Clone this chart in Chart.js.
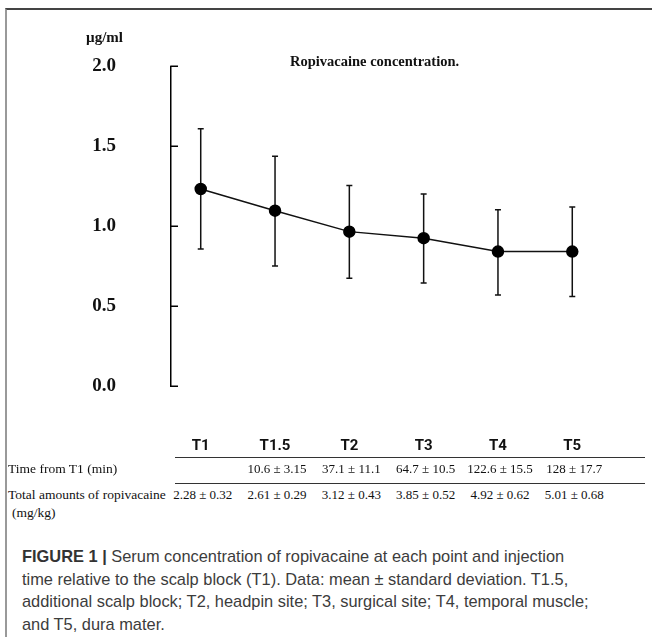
<!DOCTYPE html>
<html><head><meta charset="utf-8">
<script src="https://cdn.jsdelivr.net/npm/chart.js@4.4.1/dist/chart.umd.min.js"></script>
<style>
html,body{margin:0;padding:0;background:#fff;}
#fig{position:relative;width:652px;height:637px;overflow:hidden;background:#fff;}
#frame{position:absolute;left:5px;top:8px;width:660px;height:640px;border-top:2px solid #444;border-left:2px solid #999;}
#c{position:absolute;left:0;top:0;}
.t{position:absolute;white-space:nowrap;font-family:"Liberation Serif","Times New Roman",serif;color:#111;line-height:1;}
.rule{position:absolute;height:0;border-top:1.3px solid #333;}
#cap{position:absolute;left:22px;top:545px;font-family:"Liberation Sans",Arial,sans-serif;font-size:16.4px;line-height:22.7px;color:#3c3c3c;white-space:nowrap;}
#cap b{color:#333;}
</style></head>
<body>
<div id="fig">
<div id="frame"></div>
<canvas id="c" width="652" height="460"></canvas>
<div class="t" id="unit" style="left:86px;top:30px;font-size:15px;font-weight:bold;">µg/ml</div>
<div class="t" id="ttl" style="left:290px;top:54px;font-size:14.5px;font-weight:bold;">Ropivacaine concentration.</div>
<div class="rule" style="left:175px;top:457px;width:470px;"></div>
<div class="rule" style="left:175px;top:483px;width:470px;"></div>
<div class="t" style="left:8px;top:462px;font-size:13.5px;">Time from T1 (min)</div>
<div class="t" style="left:8px;top:488px;font-size:13.5px;">Total amounts of ropivacaine</div>
<div class="t" style="left:12px;top:506px;font-size:13.5px;">(mg/kg)</div>
<div id="cells"></div>
<div id="cap"><b>FIGURE 1 |</b> Serum concentration of ropivacaine at each point and injection<br>time relative to the scalp block (T1). Data: mean ± standard deviation. T1.5,<br>additional scalp block; T2, headpin site; T3, surgical site; T4, temporal muscle;<br>and T5, dura mater.</div>
</div>
<script>
const categories = ["T1", "T1.5", "T2", "T3", "T4", "T5"];
const meanConc   = [1.233, 1.097, 0.966, 0.925, 0.841, 0.841];
const upperSD    = [1.610, 1.438, 1.255, 1.202, 1.103, 1.120];
const lowerSD    = [0.857, 0.751, 0.675, 0.644, 0.570, 0.560];
const yTicks     = [0, 0.5, 1.0, 1.5, 2.0];
const timeFromT1 = ["", "10.6 ± 3.15", "37.1 ± 11.1", "64.7 ± 10.5", "122.6 ± 15.5", "128 ± 17.7"];
const totalAmounts = ["2.28 ± 0.32", "2.61 ± 0.29", "3.12 ± 0.43", "3.85 ± 0.52", "4.92 ± 0.62", "5.01 ± 0.68"];

const errorBars = {
  id: 'errorBars',
  beforeDatasetsDraw(chart) {
    const {ctx, scales: {x, y}} = chart;
    ctx.save();
    ctx.strokeStyle = '#111';
    ctx.lineWidth = 1.5;
    categories.forEach((c, i) => {
      const px = x.getPixelForValue(i);
      const top = y.getPixelForValue(upperSD[i]);
      const bot = y.getPixelForValue(lowerSD[i]);
      ctx.beginPath();
      ctx.moveTo(px, top); ctx.lineTo(px, bot);
      ctx.moveTo(px - 3, top); ctx.lineTo(px + 3, top);
      ctx.moveTo(px - 3, bot); ctx.lineTo(px + 3, bot);
      ctx.stroke();
    });
    ctx.restore();
  }
};
const innerTicks = {
  id: 'innerTicks',
  afterDraw(chart) {
    const {ctx, chartArea, scales: {y}} = chart;
    ctx.save();
    ctx.strokeStyle = '#000';
    ctx.lineWidth = 1.5;
    y.ticks.forEach(t => {
      const py = Math.round(y.getPixelForValue(t.value)) + 0.25;
      ctx.beginPath();
      ctx.moveTo(chartArea.left - 0.75, py);
      ctx.lineTo(chartArea.left + 7, py);
      ctx.stroke();
    });
    ctx.restore();
  }
};

const chart = new Chart(document.getElementById('c'), {
  type: 'line',
  data: {
    datasets: [{
      data: meanConc.map((v, i) => ({x: i, y: v})),
      borderColor: '#111',
      borderWidth: 1.5,
      backgroundColor: '#000',
      pointBackgroundColor: '#000',
      pointBorderColor: '#000',
      pointRadius: 5.5,
      tension: 0,
      fill: false
    }]
  },
  options: {
    responsive: false,
    animation: false,
    devicePixelRatio: 1,
    layout: {padding: {top: 62, right: 50, bottom: 0, left: 0}},
    plugins: {legend: {display: false}, tooltip: {enabled: false}, title: {display: false}},
    scales: {
      x: {
        type: 'linear',
        min: -0.4, max: 5.4,
        afterBuildTicks: s => { s.ticks = categories.map((c, i) => ({value: i})); },
        afterFit: s => { s.height = 74; },
        grid: {display: false, drawTicks: false},
        border: {display: false},
        ticks: {
          autoSkip: false, maxRotation: 0, padding: 51,
          callback: v => categories[v],
          color: '#111',
          font: {family: "Roboto,'Liberation Sans',sans-serif", size: 15, weight: 'bold'}
        }
      },
      y: {
        min: 0, max: 2,
        afterBuildTicks: s => { s.ticks = yTicks.map(v => ({value: v})); },
        afterFit: s => { s.width = 171; },
        grid: {display: true, drawOnChartArea: false, drawTicks: false},
        border: {display: true, color: '#000', width: 1.5},
        ticks: {
          padding: 55,
          callback: v => Number(v).toFixed(1),
          color: '#111',
          font: {family: "'Liberation Serif','Times New Roman',serif", size: 19, weight: 'bold'}
        }
      }
    }
  },
  plugins: [errorBars, innerTicks]
});

const cells = document.getElementById('cells');
categories.forEach((c, i) => {
  const px = chart.scales.x.getPixelForValue(i);
  [[timeFromT1[i], 462], [totalAmounts[i], 488]].forEach(([txt, top]) => {
    if (!txt) return;
    const d = document.createElement('div');
    d.className = 't';
    d.style.left = (px + 2) + 'px';
    d.style.top = top + 'px';
    d.style.fontSize = '13px';
    d.style.transform = 'translateX(-50%)';
    d.textContent = txt;
    cells.appendChild(d);
  });
});
</script>
</body></html>
